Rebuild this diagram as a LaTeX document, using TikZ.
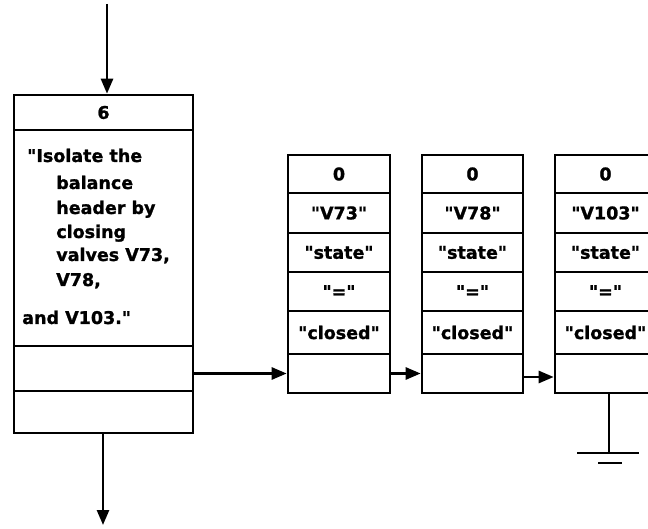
\documentclass[tikz,border=0pt]{standalone}
\usepackage{fontspec}
\setmainfont{DejaVu Sans}[Ligatures=TeXOff,BoldFeatures={FakeBold=1.2}]
\usetikzlibrary{arrows.meta}
\newcommand{\qt}{\symbol{34}}

\begin{document}
\begin{tikzpicture}[
  x=1pt,y=-1pt,
  line width=2.6pt,
  every node/.style={font=\bfseries\fontsize{17.5}{25}\selectfont},
  cell/.style={draw,rectangle,inner sep=0pt,minimum width=102pt},
  txt/.style={anchor=base west,inner sep=0pt},
  arr/.style={-{Triangle[length=15pt,width=12pt]}}
]
  \useasboundingbox (0,0) rectangle (648,529);
  \clip (0,0) rectangle (648,529);

  % step node
  \node[cell,minimum width=179pt,minimum height=35pt] (L1) at (103.5,112.5) {6};
  \node[cell,minimum width=179pt,minimum height=216pt] (L2) at (103.5,238) {};
  \node[cell,minimum width=179pt,minimum height=45pt] (L3) at (103.5,368.5) {};
  \node[cell,minimum width=179pt,minimum height=42pt] (L4) at (103.5,412) {};

  \node[txt] (t1) at (26,162) {\qt Isolate the};
  \node[txt] (t2) at (55,189) {balance};
  \node[txt] (t3) at (55,214) {header by};
  \node[txt] (t4) at (55,238) {closing};
  \node[txt] (t5) at (55,261) {valves V73,};
  \node[txt] (t6) at (55,286) {V78,};
  \node[txt] (t7) at (21,324) {and V103.\qt};

  % valve records
  \foreach \b/\cx/\w/\v in {A/339/102/V73,B/472.5/101/V78,C/605.5/101/V103}{
    \node[cell,minimum width=\w pt,minimum height=38pt] (\b1) at (\cx,174) {0};
    \node[cell,minimum width=\w pt,minimum height=40pt] (\b2) at (\cx,213) {\qt\v\qt};
    \node[cell,minimum width=\w pt,minimum height=39pt] (\b3) at (\cx,252.5) {\qt state\qt};
    \node[cell,minimum width=\w pt,minimum height=39pt] (\b4) at (\cx,291.5) {\qt=\qt};
    \node[cell,minimum width=\w pt,minimum height=43pt] (\b5) at (\cx,332.5) {\qt closed\qt};
    \node[cell,minimum width=\w pt,minimum height=39pt] (\b6) at (\cx,373.5) {};
  }

  % connectors
  \coordinate (in) at (107,4);
  \coordinate (out) at (103,525);
  \coordinate (gnd) at (609,453);
  \draw[arr] (in) -- (L1.north -| in);
  \draw[arr] (L4.south -| out) -- (out);
  \draw[arr] (L3.east |- A6) -- (A6.west);
  \draw[arr] (A6.east) -- (B6.west);
  \draw[arr] (B6.east |- 0,377) -- (C6.west |- 0,377);

  % ground
  \draw (C6.south -| gnd) -- (gnd);
  \draw ([xshift=-32pt]gnd) -- ([xshift=30pt]gnd);
  \draw ([xshift=-11pt,yshift=-10pt]gnd) -- ([xshift=13pt,yshift=-10pt]gnd);
\end{tikzpicture}
\end{document}
